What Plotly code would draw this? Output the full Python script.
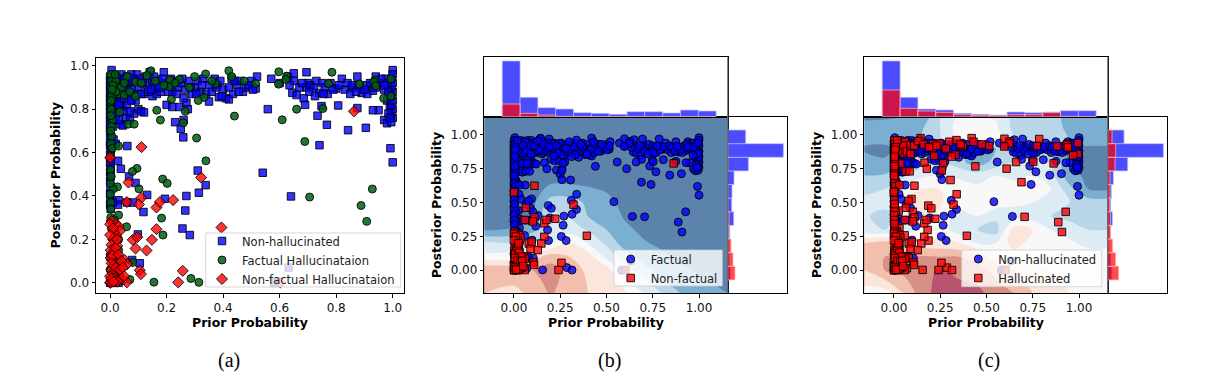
import plotly.graph_objects as go

W, H = 1208, 391

# ---------- scatter data (prior, posterior) ----------
nonhall_pts = [
 (0.005,0.98),(0.0,0.95),(0.0,0.93),(0.0,0.91),(0.0,0.89),(0.0,0.87),(0.0,0.85),(0.0,0.83),(0.0,0.81),(0.0,0.79),
 (0.0,0.77),(0.0,0.75),(0.0,0.73),(0.0,0.71),(0.0,0.69),(0.002,0.67),(0.0,0.65),(0.01,0.96),(0.012,0.93),(0.01,0.9),
 (0.008,0.87),(0.012,0.84),(0.01,0.81),(0.008,0.78),(0.012,0.75),(0.01,0.72),(0.02,0.95),(0.025,0.92),(0.022,0.89),
 (0.025,0.86),(0.02,0.83),(0.025,0.8),(0.02,0.77),(0.04,0.96),(0.042,0.93),(0.04,0.9),(0.045,0.87),(0.04,0.84),
 (0.042,0.81),(0.04,0.73),(0.045,0.725),(0.06,0.95),(0.065,0.92),(0.06,0.89),(0.065,0.86),(0.06,0.82),(0.055,0.76),
 (0.07,0.75),(0.075,0.96),(0.095,0.96),(0.09,0.93),(0.1,0.9),(0.085,0.87),(0.09,0.84),(0.1,0.8),(0.085,0.78),
 (0.11,0.79),(0.12,0.785),(0.125,0.95),(0.13,0.91),(0.12,0.87),(0.14,0.97),(0.15,0.93),(0.16,0.9),(0.15,0.86),
 (0.165,0.87),(0.17,0.93),(0.18,0.88),(0.19,0.97),(0.195,0.92),(0.2,0.82),(0.21,0.91),(0.22,0.88),(0.23,0.93),
 (0.24,0.9),(0.22,0.81),(0.23,0.74),(0.25,0.71),(0.245,0.81),(0.26,0.75),(0.265,0.89),(0.27,0.83),(0.28,0.93),
 (0.275,0.8),(0.26,0.85),(0.29,0.87),(0.3,0.9),(0.31,0.93),(0.32,0.88),(0.33,0.94),(0.35,0.91),(0.34,0.87),
 (0.35,0.835),(0.37,0.94),(0.38,0.91),(0.39,0.93),(0.4,0.89),(0.385,0.855),(0.41,0.85),(0.42,0.845),(0.43,0.94),
 (0.435,0.87),(0.45,0.91),(0.46,0.93),(0.47,0.88),(0.48,0.9),(0.5,0.93),(0.515,0.895),(0.52,0.95),(0.57,0.94),
 (0.6,0.92),(0.63,0.95),(0.65,0.93),(0.65,0.965),(0.645,0.875),(0.66,0.865),(0.685,0.85),(0.695,0.97),(0.7,0.92),
 (0.695,0.9),(0.71,0.91),(0.72,0.9),(0.73,0.93),(0.74,0.875),(0.75,0.92),(0.76,0.9),(0.77,0.87),(0.78,0.92),
 (0.8,0.895),(0.82,0.94),(0.83,0.89),(0.85,0.87),(0.86,0.9),(0.875,0.95),(0.88,0.91),(0.89,0.875),(0.91,0.91),
 (0.93,0.885),(0.91,0.87),(0.94,0.95),(0.95,0.92),(0.97,0.89),(0.975,0.94),(0.98,0.84),(0.95,0.795),(0.93,0.795),
 (0.97,0.75),(0.98,0.735),(0.99,0.81),(1.0,0.98),(0.995,0.74),(1.0,0.76),(0.995,0.78),(1.0,0.8),(0.995,0.82),
 (1.0,0.84),(0.995,0.86),(1.0,0.88),(0.995,0.9),(1.0,0.92),(0.995,0.94),(1.0,0.96),(0.98,0.92),(0.985,0.88),
 # more of the dense band
 (0.03,0.94),(0.035,0.88),(0.03,0.82),(0.03,0.75),(0.05,0.94),(0.05,0.9),(0.05,0.85),(0.05,0.79),(0.07,0.93),
 (0.075,0.89),(0.075,0.84),(0.07,0.79),(0.08,0.94),(0.105,0.94),(0.11,0.87),(0.115,0.92),(0.135,0.88),(0.145,0.89),
 (0.155,0.95),(0.175,0.9),(0.185,0.94),(0.205,0.88),(0.215,0.94),(0.235,0.87),(0.25,0.92),(0.255,0.94),(0.285,0.9),
 (0.305,0.87),(0.325,0.91),(0.36,0.88),(0.375,0.9),(0.395,0.86),(0.42,0.9),(0.44,0.93),(0.455,0.88),(0.49,0.91),
 (0.505,0.89),(0.635,0.91),(0.67,0.9),(0.68,0.92),(0.705,0.88),(0.725,0.86),(0.755,0.87),(0.79,0.89),(0.81,0.91),
 (0.84,0.92),(0.855,0.91),(0.87,0.88),(0.9,0.89),(0.92,0.92),(0.94,0.9),(0.96,0.94),(0.97,0.91),(0.985,0.78),(0.99,0.76),
 # isolated points
 (0.558,0.8),(0.54,0.507),(0.64,0.398),(0.632,0.07),(0.58,0.0),(0.741,0.634),(0.767,0.728),(0.734,0.77),(0.748,0.814),
 (0.69,0.82),(0.842,0.703),(0.905,0.714),(0.807,0.817),(0.875,0.805),(0.992,0.62),(1.0,0.555),(0.259,0.67),
 (0.061,0.63),(0.028,0.562),(0.038,0.525),(0.067,0.49),(0.09,0.46),(0.31,0.517),(0.338,0.45),(0.314,0.415),
 (0.27,0.4),(0.266,0.333),(0.194,0.387),(0.131,0.405),(0.118,0.326),(0.256,0.25),(0.282,0.22),(0.098,0.223),
 (0.078,0.105),(0.105,0.09),(0.03,0.38),(0.028,0.36),(0.06,0.37),(0.08,0.37),
 # left column
 (0.0,0.63),(0.002,0.61),(0.0,0.59),(0.001,0.57),(0.0,0.55),(0.002,0.53),(0.0,0.51),(0.002,0.49),(0.0,0.47),
 (0.001,0.44),(0.0,0.41),(0.001,0.38),(0.0,0.36),(0.002,0.34),(0.012,0.66),(0.02,0.64),(0.01,0.37),
 (0.0,0.12),(0.01,0.1),(0.03,0.11),(0.02,0.06),(0.035,0.03),(0.0,0.0),(0.01,0.0),(0.02,0.005),(0.03,0.0),(0.04,0.01),
]
factual_hall_pts = [
 (0.144,0.977),(0.42,0.977),(0.43,0.95),(0.597,0.972),(0.785,0.97),(0.625,0.952),(0.622,0.937),(0.596,0.915),
 (0.515,0.918),(0.474,0.93),(0.373,0.918),(0.338,0.962),(0.299,0.95),(0.245,0.937),(0.212,0.934),(0.209,0.903),
 (0.217,0.846),(0.332,0.854),(0.312,0.84),(0.266,0.79),(0.165,0.795),(0.178,0.75),(0.259,0.737),(0.064,0.731),
 (0.085,0.731),(0.034,0.788),(0.44,0.768),(0.66,0.8),(0.753,0.803),(0.609,0.751),(0.689,0.651),(0.306,0.667),
 (0.339,0.562),(0.095,0.527),(0.079,0.513),(0.186,0.478),(0.202,0.458),(0.102,0.433),(0.026,0.442),(0.011,0.433),
 (0.001,0.458),(0.001,0.408),(0.706,0.395),(0.928,0.432),(0.888,0.356),(0.908,0.283),(0.182,0.298),(0.03,0.312),
 (0.058,0.258),(0.187,0.22),(0.08,0.094),(0.07,0.015),(0.155,0.003),(0.286,0.02),(0.314,0.002),(0.994,0.86),
 (0.968,0.85),(0.994,0.94),(0.938,0.934),(0.933,0.926),(0.94,0.908),(0.882,0.916),(0.773,0.918),
 (0.002,0.96),(0.005,0.93),(0.003,0.9),(0.005,0.86),(0.002,0.83),(0.004,0.8),(0.008,0.75),(0.005,0.72),(0.006,0.675),
 (0.003,0.64),(0.008,0.62),(0.03,0.63),(0.02,0.93),(0.025,0.9),(0.04,0.9),(0.03,0.87),(0.06,0.95),(0.05,0.92),
 (0.05,0.865),(0.07,0.88),(0.09,0.925),(0.09,0.86),(0.02,0.88),(0.018,0.96),(0.01,0.91),(0.007,0.89),(0.004,0.84),
 (0.002,0.3),(0.005,0.25),(0.01,0.2),(0.02,0.22),(0.03,0.15),(0.01,0.1),(0.025,0.07),(0.03,0.2),(0.005,0.13),
 (0.015,0.29),(0.0,0.06),(0.02,0.03),(0.012,0.16),
 (0.11,0.92),(0.13,0.955),(0.16,0.93),(0.19,0.91),(0.23,0.92),(0.28,0.9),(0.36,0.93),(0.003,0.77),(0.002,0.7),
 (0.001,0.585),(0.002,0.52),(0.004,0.49),(0.002,0.37),(0.003,0.34),
]
nonfactual_hall_pts = [
 (0.111,0.625),(0.0,0.576),(0.322,0.485),(0.065,0.462),(0.111,0.392),(0.102,0.361),(0.059,0.372),(0.164,0.347),
 (0.176,0.372),(0.223,0.381),(0.394,0.255),(0.164,0.247),(0.148,0.198),(0.08,0.198),(0.096,0.21),(0.09,0.158),
 (0.129,0.149),(0.257,0.055),(0.241,0.002),(0.105,0.058),(0.109,0.04),(0.059,0.002),(0.052,0.104),(0.06,0.086),
 (0.602,0.002),(0.863,0.79),(0.005,0.285),(0.02,0.27),(0.03,0.26),(0.035,0.24),(0.02,0.22),(0.01,0.2),(0.005,0.175),
 (0.025,0.17),(0.002,0.15),(0.012,0.14),(0.02,0.12),(0.002,0.115),(0.03,0.09),(0.015,0.08),(0.005,0.06),(0.025,0.05),
 (0.01,0.04),(0.0,0.03),(0.03,0.015),(0.0,0.0),(0.002,0.002),(0.015,0.02),(0.04,0.02),(0.008,0.125),(0.02,0.16),
 (0.0,0.27),(0.01,0.25),(0.0,0.22),(0.025,0.2),(0.03,0.13),(0.04,0.1),(0.005,0.09),(0.02,0.07),(0.035,0.06),
 (0.005,0.02),(0.025,0.005),(0.012,0.005),(0.045,0.07),(0.05,0.03),
]

# ---------- marginal histograms, heights ----------
top_bin_start, top_bin_width = -0.063, 0.0963
right_bin_start, right_bin_width = -0.071, 0.1007
top_b_blue = [167,58,27,23,12,10,7,15,15,11,20,17]
top_b_red = [38,10,5,1,1,0,0,1,0,1,0,0]
top_c_blue = [167,58,23,20,10,7,5,14,12,14,18,18]
top_c_red = [80,25,17,13,6,4,3,6,6,12,1,0]
# listed from the lowest bin upward
right_b_blue = [8,5,4,6,18,12,13,19,62,167,54]
right_b_red = [22,16,10,2,4,1,1,0,1,1,0]
right_c_blue = [12,9,4,5,14,9,11,17,60,167,49]
right_c_red = [33,24,15,9,8,6,7,7,22,24,13]

# ---------- background decision surfaces (class score, red < 0 < blue) ----------
b_x = [-0.16,0,0.1,0.2,0.3,0.4,0.5,0.6,0.7,0.8,0.9,1.0,1.155]
b_y = [-0.17,0.0,0.1,0.2,0.3,0.4,0.5,0.6,0.7,1.135]
b_z = [
 [-1.5,-1,-2,-2.6,-2,-1.5,-1.2,-.7,.5,1.5,2.5,3,3.5],
 [-2.5,-2.5,-2.5,-3,-2,-1.3,-1,1,2,3,3.3,3.6,3.9],
 [.2,0,-1,-2,-1.5,-1,.8,2,3,3.3,3.7,4,4],
 [1.3,1.5,1.5,.5,-.6,.5,1.7,3,3.4,3.7,4,4,4],
 [3.6,3.4,2.8,1.4,1,1.6,2.5,3.3,3.7,4,4,4,4],
 [4,4,3.5,1.2,1.6,2.5,3,3.6,4,4,4,4,4],
 [4,4,3.8,2,2,2.7,3.2,3.8,4,4,4,4,4],
 [4,4,4,3.2,3.2,3.4,3.6,4,4,4,4,4,4],
 [4,4,4,4,4,4,4,4,4,4,4,4,4],
 [4,4,4,4,4,4,4,4,4,4,4,4,4],
]
c_x = [-0.16,-.05,.05,.15,.25,.35,.45,.55,.65,.75,.85,.95,1.05,1.155]
c_y = [-0.17,0.0,0.1,0.2,0.3,0.4,0.5,0.6,0.7,0.8,0.9,0.97,1.05,1.135]
c_z = [
 [0,0,-1.5,-3,-4,-4,-3.8,-3,-2.5,-1.5,-1,-.5,0,0],
 [-1.5,-2.5,-2.8,-3.2,-3.6,-3.2,-3,-2.2,-1.5,-1,-.5,0,0,0],
 [-2,-2.5,-2.5,-2.6,-2.5,-2.5,-2,-1,0,0,0,0,0,0],
 [-1.5,-2,-1.7,-1,-.8,-.6,.5,.5,-1,0,0,.3,.8,.8],
 [1.2,1.5,1,.3,0,1,1.5,2,-1,-.5,.5,1,1.5,1.5],
 [1.3,2,1,-.5,-.3,1,.5,1.2,1,1,1.5,1.8,1.8,1.8],
 [.9,1,-.7,-1.5,-.6,0,0,0,.3,.5,.6,1.5,2,2],
 [2,1.5,.3,-.5,-.5,.2,.2,0,0,0,.5,2.2,3.5,3.6],
 [2.5,2.4,1.8,.7,.5,.6,1,.5,.8,.5,1.2,3.2,3.7,3.7],
 [3,3.4,2.8,2,1.5,2.2,3,2.2,1.4,1,1.6,3.5,3.8,3.8],
 [3.7,3.7,3.2,2.8,2.6,2.4,2.6,2.5,2.5,3,3.3,3.6,3.8,3.8],
 [3,3.2,3,2.4,1.6,.3,.3,0,1.5,2,1.6,2.6,2.7,2.7],
 [3.3,3.2,3.2,2.6,1.5,0,.3,.3,1.8,2,1.6,3,3,2.6],
 [3.6,3.6,3.5,3.3,1.5,.3,.5,.6,1.8,2,2,3,3,2.6],
]
band_colors = ['#B85470','#D98F85','#F2BFAC','#FBE6DC','#F8F8F8','#DDEBF4','#B8D6E8','#7AAFD2','#5B83AB']

# ---------- helpers ----------
FONT = 'DejaVu Sans'
BLUE = 'rgba(0,0,255,0.8)'
GREEN = 'rgba(0,95,15,0.85)'
RED = 'rgba(255,0,0,0.8)'
EDGE = dict(color='rgba(0,0,0,0.85)', width=1)
HBLUE = 'rgba(0,0,255,0.7)'
HRED = 'rgba(255,0,0,0.7)'
HEDGE_B = dict(color='rgba(190,190,255,0.7)', width=1)
HEDGE_R = dict(color='rgba(255,190,190,0.7)', width=1)

def xs(p): return [q[0] for q in p]
def ys(p): return [q[1] for q in p]
def dx(a, b): return [a / W, b / W]
def dy(top, bottom): return [1 - bottom / H, 1 - top / H]

def scat(pts, name, sym, color, size, xa, ya, legend):
    return go.Scatter(x=xs(pts), y=ys(pts), mode='markers', name=name, xaxis=xa, yaxis=ya, legend=legend,
                      marker=dict(symbol=sym, color=color, size=size, line=EDGE))

def surf(x, y, z, xa, ya):
    n = len(band_colors)
    cs = [[0, band_colors[0]]] + [[(i + .5) / n, c] for i, c in enumerate(band_colors)] + [[1, band_colors[-1]]]
    return go.Contour(x=x, y=y, z=z, xaxis=xa, yaxis=ya, showscale=False, hoverinfo='skip',
                      colorscale=cs, zauto=False, zmin=-4.5, zmax=4.5, line=dict(width=0),
                      contours=dict(coloring='fill', showlines=False, start=-4.5, end=4.5, size=1))

def top_hist(vals, color, edge, xa, ya):
    return go.Bar(x=[top_bin_start + (i + .5) * top_bin_width for i in range(len(vals))], y=vals, width=top_bin_width,
                  marker=dict(color=color, line=edge), xaxis=xa, yaxis=ya, showlegend=False)

def right_hist(vals, color, edge, xa, ya):
    return go.Bar(y=[right_bin_start + (i + .5) * right_bin_width for i in range(len(vals))], x=vals, width=right_bin_width,
                  orientation='h', marker=dict(color=color, line=edge), xaxis=xa, yaxis=ya, showlegend=False)

factual = nonhall_pts + factual_hall_pts
hallucinated = factual_hall_pts + nonfactual_hall_pts

traces = [
    scat(nonhall_pts, 'Non-hallucinated', 'square', BLUE, 7.5, 'x', 'y', 'legend'),
    scat(factual_hall_pts, 'Factual Hallucinataion', 'circle', GREEN, 8, 'x', 'y', 'legend'),
    scat(nonfactual_hall_pts, 'Non-factual Hallucinataion', 'diamond', RED, 8.5, 'x', 'y', 'legend'),
    surf(b_x, b_y, b_z, 'x2', 'y2'),
    scat(factual, 'Factual', 'circle', BLUE, 8, 'x2', 'y2', 'legend2'),
    scat(nonfactual_hall_pts, 'Non-factual', 'square', RED, 7.5, 'x2', 'y2', 'legend2'),
    top_hist(top_b_blue, HBLUE, HEDGE_B, 'x3', 'y3'), top_hist(top_b_red, HRED, HEDGE_R, 'x3', 'y3'),
    right_hist(right_b_blue, HBLUE, HEDGE_B, 'x4', 'y4'), right_hist(right_b_red, HRED, HEDGE_R, 'x4', 'y4'),
    surf(c_x, c_y, c_z, 'x5', 'y5'),
    scat(nonhall_pts, 'Non-hallucinated', 'circle', BLUE, 8, 'x5', 'y5', 'legend3'),
    scat(hallucinated, 'Hallucinated', 'square', RED, 7.5, 'x5', 'y5', 'legend3'),
    top_hist(top_c_blue, HBLUE, HEDGE_B, 'x6', 'y6'), top_hist(top_c_red, HRED, HEDGE_R, 'x6', 'y6'),
    right_hist(right_c_blue, HBLUE, HEDGE_B, 'x7', 'y7'), right_hist(right_c_red, HRED, HEDGE_R, 'x7', 'y7'),
]
fig = go.Figure(traces)

def main_axes(anchor, dom, rng, tv, tt, txt, standoff):
    return dict(domain=dom, range=rng, anchor=anchor, tickvals=tv, ticktext=tt, ticks='outside', ticklen=3.5, tickwidth=1,
                tickcolor='black', showgrid=False, zeroline=False, showline=True, linecolor='black', linewidth=1, mirror=True,
                tickfont=dict(family=FONT, size=12, color='#111'),
                title=dict(text='<b>%s</b>' % txt, font=dict(family=FONT, size=12.5, color='black'), standoff=standoff))

def blank_axes(anchor, dom, rng):
    return dict(domain=dom, range=rng, anchor=anchor, showticklabels=False, ticks='', showgrid=False, zeroline=False,
                showline=True, linecolor='black', linewidth=1, mirror=True)

t5 = [0, .2, .4, .6, .8, 1]; t5l = ['0.0', '0.2', '0.4', '0.6', '0.8', '1.0']
t4 = [0, .25, .5, .75, 1]; t4l = ['0.00', '0.25', '0.50', '0.75', '1.00']
XR = [-0.16, 1.155]; YR = [-0.17, 1.135]
layout = dict(
    width=W, height=H, margin=dict(l=0, r=0, t=0, b=0), paper_bgcolor='white', plot_bgcolor='white',
    barmode='overlay', hovermode=False,
    xaxis=main_axes('y', dx(96, 404), [-0.05, 1.04], t5, t5l, 'Prior Probability', 4),
    yaxis=main_axes('x', dy(57.5, 293), [-0.047, 1.038], t5, t5l, 'Posterior Probability', 6),
    xaxis2=main_axes('y2', dx(484.3, 727.7), XR, t4, t4l, 'Prior Probability', 4),
    yaxis2=main_axes('x2', dy(116.7, 293.3), YR, t4, t4l, 'Posterior Probability', 6),
    xaxis3=blank_axes('y3', dx(484.3, 727.7), XR),
    yaxis3=blank_axes('x3', dy(57.3, 116.7), [0, 178]),
    xaxis4=blank_axes('y4', dx(727.7, 786.7), [0, 177]),
    yaxis4=blank_axes('x4', dy(116.7, 293.3), YR),
    xaxis5=main_axes('y5', dx(864.3, 1107.7), XR, t4, t4l, 'Prior Probability', 4),
    yaxis5=main_axes('x5', dy(116.7, 293.3), YR, t4, t4l, 'Posterior Probability', 6),
    xaxis6=blank_axes('y6', dx(864.3, 1107.7), XR),
    yaxis6=blank_axes('x6', dy(57.3, 116.7), [0, 178]),
    xaxis7=blank_axes('y7', dx(1107.7, 1166.7), [0, 177]),
    yaxis7=blank_axes('x7', dy(116.7, 293.3), YR),
)

def leg(left, centre):
    return dict(x=left / W, y=1 - centre / H, xanchor='left', yanchor='middle', bgcolor='rgba(0,0,0,0)',
                borderwidth=0, font=dict(family=FONT, size=11.5, color='#222'),
                itemclick=False, itemdoubleclick=False)
layout['legend'] = leg(202, 260)
layout['legend2'] = leg(610.7, 268.5)
layout['legend3'] = leg(958.3, 268.5)

def box(x0, y0, x1, y1):
    return dict(type='rect', xref='paper', yref='paper', x0=x0 / W, x1=x1 / W, y0=1 - y1 / H, y1=1 - y0 / H,
                fillcolor='rgba(255,255,255,0.8)', line=dict(color='rgba(204,204,204,0.8)', width=1), layer='above')
def spine(x, y0, y1):
    return dict(type='line', xref='paper', yref='paper', x0=x / W, x1=x / W, y0=1 - y1 / H, y1=1 - y0 / H,
                line=dict(color='#777', width=1.2), layer='above')
layout['shapes'] = [box(205.7, 233, 400.7, 287), box(614, 250, 722.3, 286), box(961.7, 250, 1101.7, 286.7),
                    spine(727.7, 57.3, 293.3), spine(1107.7, 57.3, 293.3)]

captions = [('(a)', 229), ('(b)', 609), ('(c)', 989)]
layout['annotations'] = [dict(text=t, x=px / W, y=1 - 360 / H, xref='paper', yref='paper', showarrow=False,
                              xanchor='center', yanchor='middle',
                              font=dict(family='Liberation Serif', size=20, color='black')) for t, px in captions]
fig.update_layout(**layout)
fig.write_html('out.html', post_script="document.body.style.margin='0';", config=dict(displayModeBar=False))
